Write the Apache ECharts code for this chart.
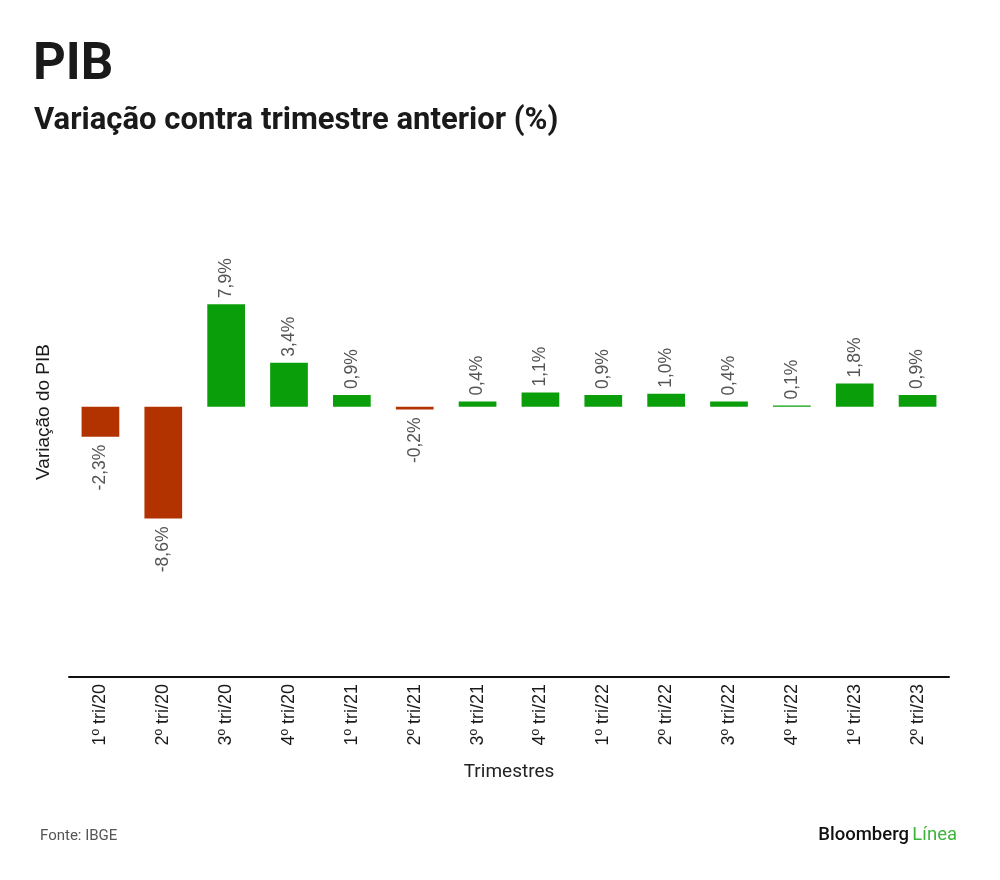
<!DOCTYPE html>
<html>
<head>
<meta charset="utf-8">
<script src="https://cdn.jsdelivr.net/npm/echarts@6/dist/echarts.min.js"></script>
<style>
  html, body { margin: 0; padding: 0; background: #fff; }
  #main { width: 1000px; height: 880px; }
</style>
</head>
<body>
<div id="main"></div>
<script>
const quarters = [
  "1º tri/20", "2º tri/20", "3º tri/20", "4º tri/20",
  "1º tri/21", "2º tri/21", "3º tri/21", "4º tri/21",
  "1º tri/22", "2º tri/22", "3º tri/22", "4º tri/22",
  "1º tri/23", "2º tri/23"
];
const gdpChange = [-2.3, -8.6, 7.9, 3.4, 0.9, -0.2, 0.4, 1.1, 0.9, 1.0, 0.4, 0.1, 1.8, 0.9];

const GREEN = "#0a9e0a";
const RED = "#b23300";

const myChart = echarts.init(document.getElementById("main"));

const fmt = (v) => v.toFixed(1).replace(".", ",") + "%";

const barData = gdpChange.map((v) => {
  const neg = v < 0;
  return {
    value: v,
    itemStyle: { color: neg ? RED : GREEN },
    label: {
      position: neg ? "bottom" : "top",
      align: neg ? "right" : "left",
      distance: neg ? 8 : 6,
    },
  };
});

const options = {
  backgroundColor: "#fff",
  textStyle: { fontFamily: "Roboto, Arial, sans-serif" },
  title: [
    {
      text: "PIB",
      left: 28,
      top: 36,
      textStyle: { fontSize: 51, fontWeight: "bold", color: "#1a1a1a", fontFamily: "Roboto" },
    },
    {
      text: "Variação contra trimestre anterior (%)",
      left: 29,
      top: 101,
      textStyle: { fontSize: 31, fontWeight: "bold", color: "#1a1a1a", fontFamily: "Roboto" },
    },
  ],
  grid: {
    left: 69,
    right: 51,
    top: 147,
    bottom: 203,
  },
  xAxis: {
    type: "category",
    data: quarters,
    name: "Trimestres",
    nameLocation: "middle",
    nameGap: 86,
    nameTextStyle: { fontSize: 19, color: "#222", fontFamily: "Roboto" },
    axisLine: { onZero: false, lineStyle: { color: "#111", width: 2 } },
    axisTick: { show: false },
    axisLabel: {
      interval: 0,
      rotate: 90,
      fontSize: 18,
      color: "#1a1a1a",
      fontFamily: "Liberation Sans, Arial, sans-serif",
      margin: 7,
    },
  },
  yAxis: {
    type: "value",
    min: -20.8,
    max: 20,
    name: "Variação do PIB",
    nameLocation: "middle",
    nameGap: 16,
    nameTextStyle: { fontSize: 19, color: "#1a1a1a", fontFamily: "Liberation Sans, Arial, sans-serif" },
    axisLine: { show: false },
    axisTick: { show: false },
    axisLabel: { show: false },
    splitLine: { show: false },
  },
  series: [
    {
      name: "PIB",
      type: "bar",
      data: barData,
      barWidth: "60%",
      label: {
        show: true,
        rotate: 90,
        verticalAlign: "middle",
        fontSize: 17.5,
        color: "#555",
        fontFamily: "Liberation Sans, Arial, sans-serif",
        formatter: (p) => fmt(p.value),
      },
    },
  ],
  graphic: [
    {
      type: "text",
      left: 40,
      top: 829,
      style: { text: "Fonte: IBGE", fontSize: 15, fill: "#555", fontFamily: "Roboto" },
    },
    {
      type: "text",
      right: 43,
      top: 826,
      style: {
        text: "{b|Bloomberg} {g|Línea}",
        rich: {
          b: { fontSize: 18.5, fill: "#111", fontFamily: "Roboto", fontWeight: 500 },
          g: { fontSize: 18.5, fill: "#3cb43c", fontFamily: "Roboto" },
        },
      },
    },
  ],
};

myChart.setOption(options);
</script>
</body>
</html>
